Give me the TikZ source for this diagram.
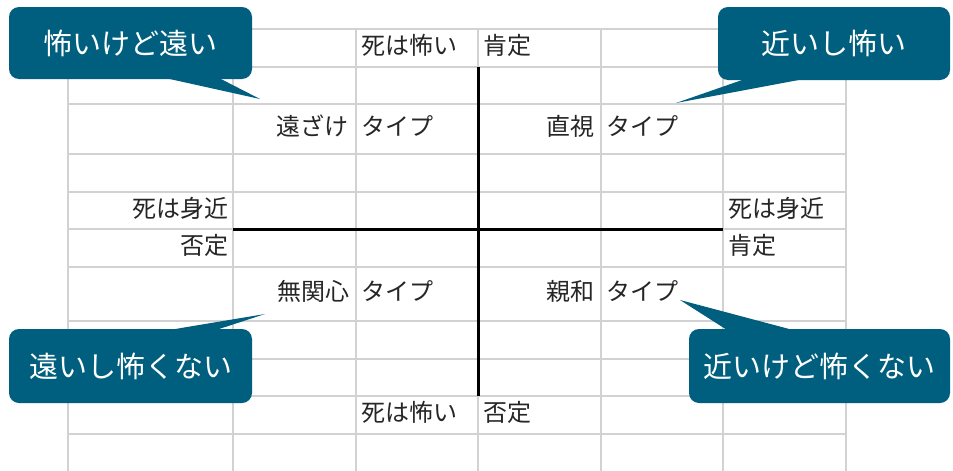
\documentclass[tikz,border=0pt]{standalone}
\usepackage{fontspec}
\setmainfont{Noto Sans CJK JP}
\definecolor{calloutblue}{HTML}{005F7E}
\definecolor{gridgray}{HTML}{D2D2D2}
\tikzset{
  celltext/.style={inner sep=0pt, font=\fontsize{24}{24}\selectfont, text=black!85},
  lcell/.style={celltext, anchor=west},
  rcell/.style={celltext, anchor=east},
  callout/.style={fill=calloutblue, rounded corners=10pt, text=white, inner sep=0pt,
    font=\fontsize{29}{29}\selectfont},
  pointer/.style={fill=calloutblue},
  gridline/.style={draw=gridgray, line width=2pt},
  axis/.style={draw=black, line width=3pt}
}
\begin{document}
\begin{tikzpicture}[x=1pt,y=-1pt]
\useasboundingbox (0,0) rectangle (953,471);
\fill[white] (0,0) rectangle (953,471);
% grid
\foreach \yy in {29,67,104,154,192,229,267,321,359,396,434}
  \draw[gridline] (68,\yy) -- (846,\yy);
\foreach \xx in {68,233,356,478,601,723,846}
  \draw[gridline] (\xx,29) -- (\xx,471);
% axes
\coordinate (vtop) at (478,67);
\coordinate (vbot) at (478,396);
\coordinate (hleft) at (233,229);
\coordinate (hright) at (723,229);
\draw[axis] (vtop) -- (vbot);
\draw[axis] (hleft) -- (hright);
% cell texts
\node[lcell] (t1) at (361,45) {死は怖い};
\node[lcell] (t2) at (483,45) {肯定};
\node[rcell] (t3) at (349,126) {遠ざけ};
\node[lcell] (t4) at (361,126) {タイプ};
\node[rcell] (t5) at (595,126) {直視};
\node[lcell] (t6) at (606,126) {タイプ};
\node[rcell] (t7) at (229,208) {死は身近};
\node[lcell] (t8) at (728,208) {死は身近};
\node[rcell] (t9) at (229,245) {否定};
\node[lcell] (t10) at (728,245) {肯定};
\node[rcell] (t11) at (350,291) {無関心};
\node[lcell] (t12) at (361,291) {タイプ};
\node[rcell] (t13) at (595,291) {親和};
\node[lcell] (t14) at (606,291) {タイプ};
\node[lcell] (t15) at (361,412) {死は怖い};
\node[lcell] (t16) at (483,412) {否定};
% callouts
\coordinate (p1) at (260,99);
\coordinate (p2) at (676,103);
\coordinate (p3) at (265,314);
\coordinate (p4) at (680,300);
\node[callout, minimum width=243pt, minimum height=72pt] (c1) at (130.5,43) {怖いけど遠い};
\node[callout, minimum width=232pt, minimum height=73pt] (c2) at (834,43.5) {近いし怖い};
\node[callout, minimum width=243pt, minimum height=74pt] (c3) at (130.5,366) {遠いし怖くない};
\node[callout, minimum width=261pt, minimum height=74pt] (c4) at (819.5,366) {近いけど怖くない};
\fill[pointer] ([xshift=22pt,yshift=4pt]c1.south) -- (p1) -- ([xshift=83pt,yshift=4pt]c1.south) -- cycle;
\fill[pointer] ([xshift=-81pt,yshift=4pt]c2.south) -- (p2) -- ([xshift=-15pt,yshift=4pt]c2.south) -- cycle;
\fill[pointer] ([xshift=22pt,yshift=-4pt]c3.north) -- (p3) -- ([xshift=77pt,yshift=-4pt]c3.north) -- cycle;
\fill[pointer] ([xshift=-88pt,yshift=-4pt]c4.north) -- (p4) -- ([xshift=-16pt,yshift=-4pt]c4.north) -- cycle;
\end{tikzpicture}
\end{document}
